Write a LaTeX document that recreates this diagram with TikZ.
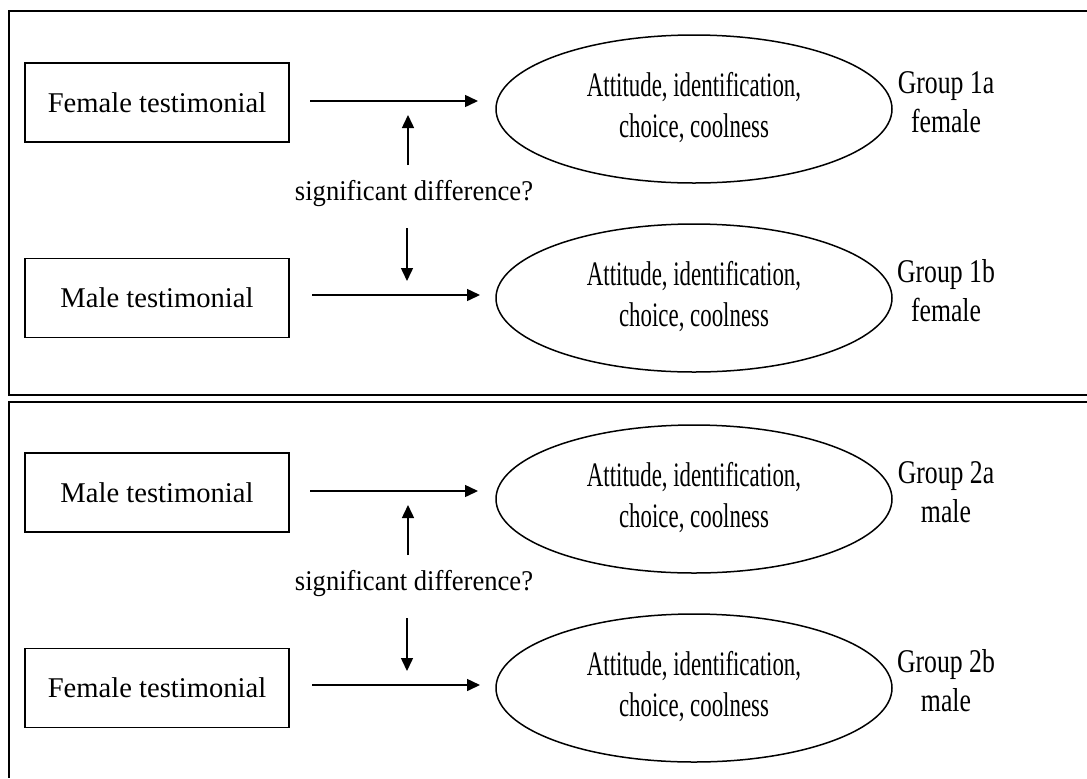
\documentclass[tikz,border=0pt]{standalone}
\usepackage{fontspec}
\usepackage{graphicx}
\setmainfont{Liberation Serif}
\usetikzlibrary{arrows.meta,shapes.geometric}

% centred lines, stretched or squeezed as a block
\newcommand{\squeezed}[3]{\scalebox{#1}[#2]{\begin{tabular}{@{}c@{}}#3\end{tabular}}}

\tikzset{
  x=0.5pt, y=-0.5pt,
  frameline/.style={line width=1pt},
  testbox/.style={draw, line width=0.75pt, minimum width=132pt, minimum height=39.5pt,
    inner sep=0pt, font=\fontsize{14.3}{17}\selectfont},
  outcome/.style={draw, ellipse, line width=0.75pt, minimum width=198pt, minimum height=74pt,
    inner sep=0pt, align=center, font=\fontsize{14.3}{16.8}\selectfont},
  grouplabel/.style={inner sep=0pt, font=\fontsize{14.3}{16.6}\selectfont},
  difflabel/.style={inner sep=0pt, font=\fontsize{14.3}{17}\selectfont},
  flow/.style={-{Triangle[length=6.5pt,width=6pt]}, line width=0.75pt},
}

% One experimental block: two testimonials, their outcomes and the comparison
\newcommand{\expblock}[6]{%
  % #1 name prefix, #2 upper testimonial, #3 lower testimonial,
  % #4 upper group, #5 lower group, #6 participants
  \node[testbox] (#1top) at (157,102.5) {#2};
  \node[testbox] (#1bot) at (157,298) {#3};
  \node[outcome] (#1outA) at (694,109)
    {\raisebox{-1pt}{\squeezed{0.8}{1.2}{Attitude, identification,\\choice, coolness}}};
  \node[outcome] (#1outB) at (694,298)
    {\raisebox{-1pt}{\squeezed{0.8}{1.2}{Attitude, identification,\\choice, coolness}}};
  \node[grouplabel] (#1grpA) at (946,105.5) {\squeezed{0.9}{1.16}{Group #4\\#6}};
  \node[grouplabel] (#1grpB) at (946,294.5) {\squeezed{0.9}{1.16}{Group #5\\#6}};
  \node[difflabel] (#1diff) at (414,194) {\scalebox{0.93}[1]{significant difference?}};
  \coordinate (#1sA) at (310,101);
  \coordinate (#1eA) at (478,101);
  \coordinate (#1sB) at (312,295);
  \coordinate (#1eB) at (480,295);
  \coordinate (#1upS) at (408,165);
  \coordinate (#1upE) at (408,115);
  \coordinate (#1dnS) at (407,228);
  \coordinate (#1dnE) at (407,281);
  \draw[flow] (#1sA) -- (#1eA);
  \draw[flow] (#1sB) -- (#1eB);
  \draw[flow] (#1upS) -- (#1upE);
  \draw[flow] (#1dnS) -- (#1dnE);
}

\begin{document}
\begin{tikzpicture}
  \useasboundingbox (0,0) rectangle (1087,778);
  \fill[white] (0,0) rectangle (1087,778);

  % panel frames, open towards the right edge
  \draw[frameline] (1087,11) -- (8.5,11) -- (8.5,395) -- (1087,395);
  \draw[frameline] (1087,401.5) -- (8.5,401.5) -- (8.5,778);

  % female participants
  \begin{scope}
    \expblock{f}{Female testimonial}{Male testimonial}{1a}{1b}{female}
  \end{scope}

  % male participants
  \begin{scope}[shift={(0,390)}]
    \expblock{m}{Male testimonial}{Female testimonial}{2a}{2b}{male}
  \end{scope}
\end{tikzpicture}
\end{document}
